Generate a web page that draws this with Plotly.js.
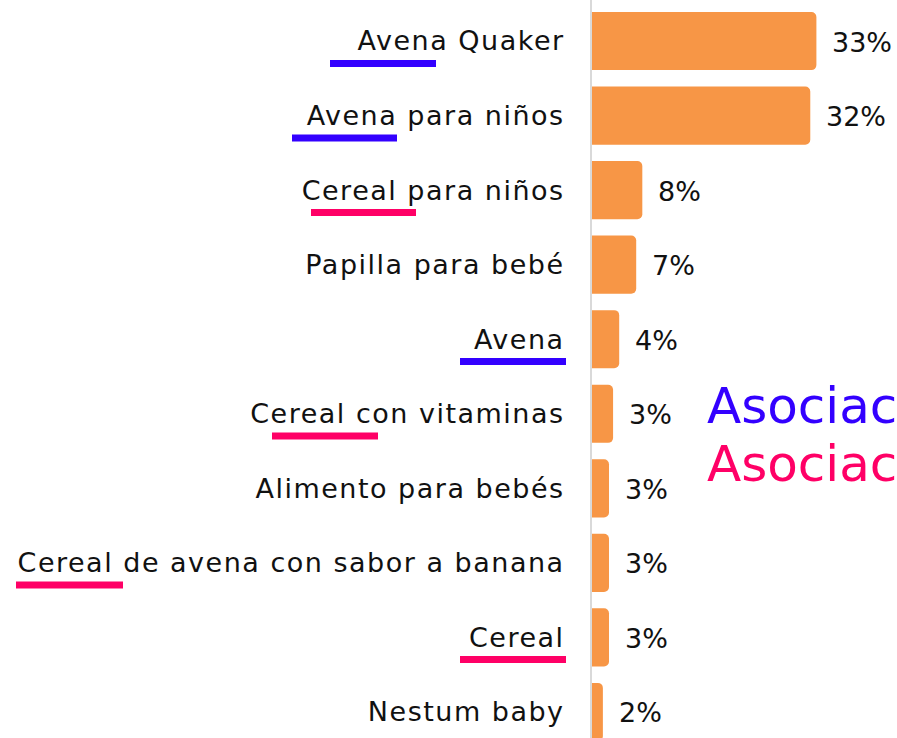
<!DOCTYPE html>
<html>
<head>
<meta charset="utf-8">
<script src="https://cdn.plot.ly/plotly-3.0.1.min.js"></script>
<style>html,body{margin:0;padding:0;background:#fff;overflow:hidden}#chart{width:897px;height:738px}
#chart .ytick text{letter-spacing:1.5px}
</style>
</head>
<body>
<div id="chart"></div>
<script>
const categories = ["Avena Quaker","Avena para niños","Cereal para niños","Papilla para bebé","Avena","Cereal con vitaminas","Alimento para bebés","Cereal de avena con sabor a banana","Cereal","Nestum baby"];
const values = [33.0, 32.1, 7.4, 6.5, 4.0, 3.1, 2.5, 2.5, 2.5, 1.6];
const valueLabels = ["33%","32%","8%","7%","4%","3%","3%","3%","3%","2%"];
// underline decorations: [category index, colour key, left px, right px]
const underlines = [[0,"blue",330,436],[1,"blue",292,397],[2,"pink",311,416],[4,"blue",460,566],[5,"pink",272,378],[7,"pink",16,123],[8,"pink",460,566]];
const legendTexts = [["Asociac","blue"],["Asociac","pink"]];

const W = 897, H = 738, L = 592;
const colors = {blue:"#3300FF", pink:"#FF0066"};
const font = "DejaVu Sans, sans-serif";
const rowPitch = 74.5, firstRow = 41;

const shapes = underlines.map(u => {
  const yc = firstRow + u[0]*rowPitch;
  return {type:"rect", xref:"paper", yref:"paper",
    x0:(u[2]-L)/(W-L), x1:(u[3]-L)/(W-L),
    y0:1-(yc+26)/H, y1:1-(yc+19)/H,
    fillcolor:colors[u[1]], line:{width:0}, layer:"above"};
});

const annotations = values.map((v,i)=>({
  x:v, y:categories[i], xref:"x", yref:"y", text:valueLabels[i],
  showarrow:false, xanchor:"left", yanchor:"middle", xshift:14, yshift:-1,
  font:{family:font, size:27, color:"#111"}
}));
legendTexts.forEach((t,i)=>{
  annotations.push({xref:"paper", yref:"paper", x:(705-L)/(W-L), y:1-(406+i*58)/H,
    xanchor:"left", yanchor:"middle", text:t[0], showarrow:false,
    font:{family:font, size:50, color:colors[t[1]]}});
});

const trace = {type:"bar", orientation:"h", x:values, y:categories,
  marker:{color:"#F79646", line:{width:0}}, hoverinfo:"none"};

const layout = {
  width:W, height:H, margin:{l:L, r:0, t:0, b:0},
  paper_bgcolor:"#fff", plot_bgcolor:"#fff",
  showlegend:false, bargap:0.22, barcornerradius:5,
  xaxis:{range:[0,(W-L)/6.8], visible:false, fixedrange:true},
  yaxis:{type:"category", categoryorder:"array", categoryarray:categories,
    range:[9+(H-712)/rowPitch, -firstRow/rowPitch],
    showline:true, linecolor:"#d9d9d9", linewidth:2, showgrid:false, zeroline:false,
    ticks:"", ticklabelstandoff:20,
    tickfont:{family:font, size:27, color:"#111"}},
  shapes:shapes, annotations:annotations
};
Plotly.newPlot("chart", [trace], layout, {displayModeBar:false, staticPlot:true});
</script>
</body>
</html>
